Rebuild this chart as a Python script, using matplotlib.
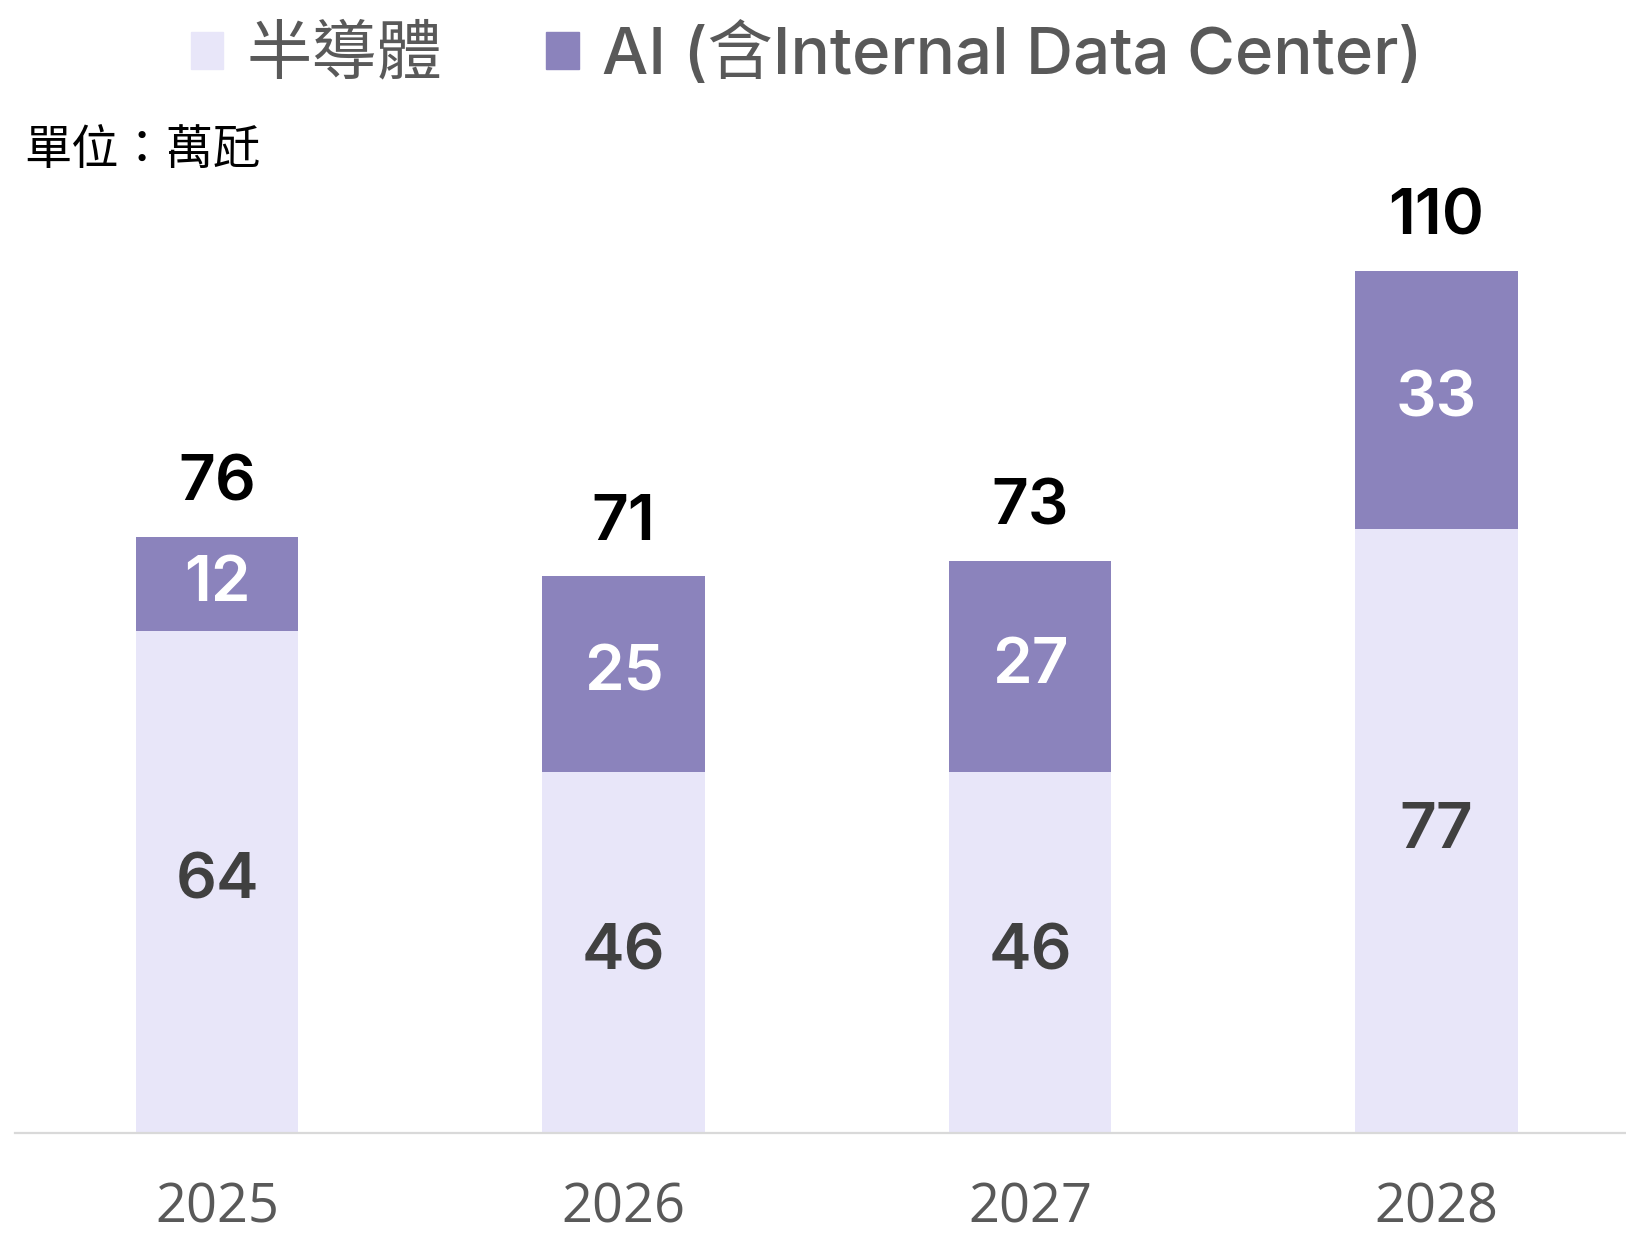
import matplotlib
matplotlib.use("Agg")
import matplotlib.pyplot as plt
from matplotlib.patches import Patch

years = ["2025", "2026", "2027", "2028"]
semi = [64, 46, 46, 77]
ai = [12, 25, 27, 33]
totals = [76, 71, 73, 110]

c_semi = "#E8E6F9"
c_ai = "#8B83BC"
num_font = ["Inter", "DejaVu Sans"]
cjk_font = ["Inter", "Noto Sans CJK TC"]

fig = plt.figure(figsize=(16.26, 12.34), dpi=100)
ax = fig.add_axes([0.009, 0.0818, 0.991, 0.7565])

x = list(range(len(years)))
ax.bar(x, semi, width=0.4, color=c_semi)
ax.bar(x, ai, width=0.4, bottom=semi, color=c_ai)

for i in x:
    ax.text(i, semi[i] / 2, str(semi[i]), ha="center", va="center",
            fontsize=46, color="#404040", family=num_font, weight="semibold")
    ax.text(i, semi[i] + ai[i] / 2, str(ai[i]), ha="center", va="center",
            fontsize=46, color="white", family=num_font, weight="semibold")
    ax.annotate(str(totals[i]), (i, totals[i]), xytext=(0, 17),
                textcoords="offset points", ha="center", va="bottom",
                fontsize=46, color="black", family=num_font, weight="semibold")

ax.set_xlim(-0.498, 3.466)
ax.set_ylim(0, 119.07)
ax.set_xticks(x)
ax.set_xticklabels(years, fontsize=39, color="#595959", family=["Open Sans"])
ax.tick_params(axis="x", length=0, pad=34)
ax.set_yticks([])
for s in ["top", "left", "right"]:
    ax.spines[s].set_visible(False)
ax.spines["bottom"].set_color("#D9D9D9")
ax.spines["bottom"].set_linewidth(1.6)

fig.text(0.015, 0.878, "單位：萬瓩", fontsize=34, color="black",
         family=["Noto Sans CJK TC"], va="center", ha="left")

handles = [Patch(color=c_semi), Patch(color=c_ai)]
leg = fig.legend(handles, ["半導體", "AI (含Internal Data Center)"], ncol=2,
                 loc="center", bbox_to_anchor=(0.496, 0.955), frameon=False,
                 handlelength=0.5, handleheight=0.5, handletextpad=0.35,
                 columnspacing=1.6,
                 prop={"family": cjk_font, "size": 47, "weight": "medium"})
texts = leg.get_texts()
texts[0].set_fontfamily(["Noto Sans CJK TC"])
texts[0].set_fontweight("normal")
for t in texts:
    t.set_color("#595959")

fig.savefig("out.png", dpi=100)
